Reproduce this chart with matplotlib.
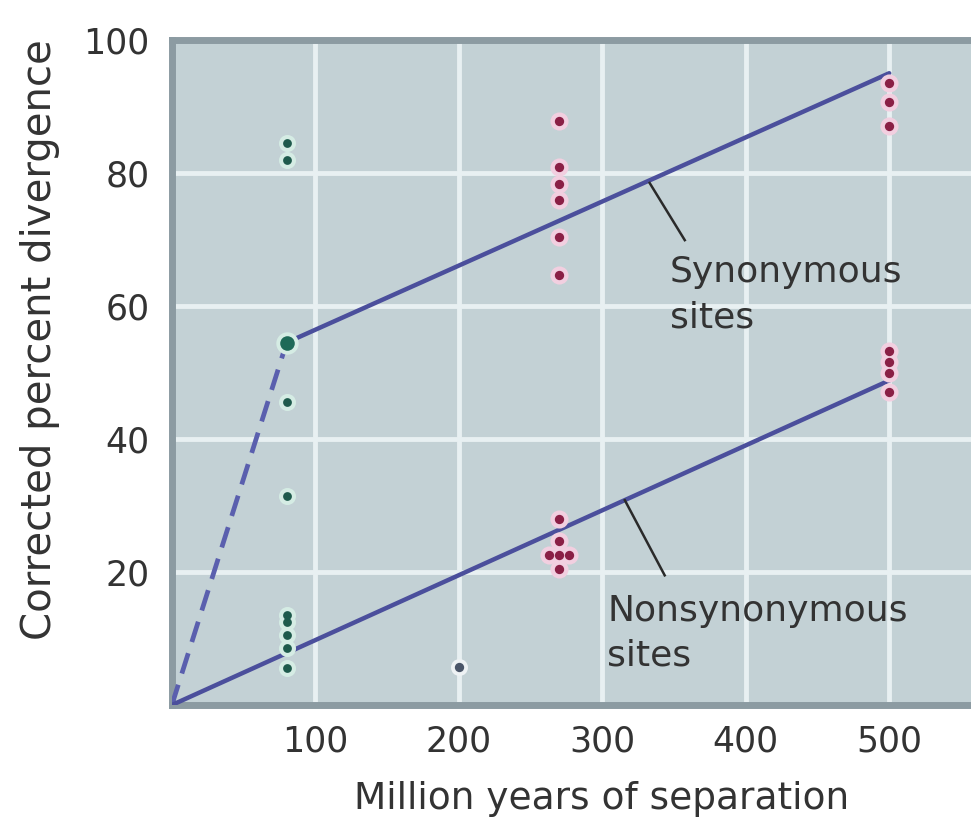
import matplotlib
matplotlib.use("Agg")
import matplotlib.pyplot as plt

# Data (million years, corrected percent divergence)
green_x = [80, 80, 80, 80, 80, 80, 80, 80, 80]
green_y = [84.5, 82.0, 45.5, 31.5, 13.5, 12.5, 10.5, 8.5, 5.5]
big_x = [80]
big_y = [54.5]
red_x = [270, 270, 270, 270, 270, 270, 270, 270, 263, 270, 277, 270,
         500, 500, 500, 500, 500, 500, 500]
red_y = [87.8, 80.9, 78.3, 75.9, 70.4, 64.7, 28.0, 24.7, 22.5, 22.5, 22.5, 20.4,
         93.5, 90.6, 87.0, 53.3, 51.6, 49.9, 47.1]
blue_x = [200]
blue_y = [5.7]

syn_x = [80, 500]
syn_y = [54.5, 95.0]
syn_dash_x = [0, 80]
syn_dash_y = [0, 54.5]
non_x = [0, 500]
non_y = [0, 48.8]

xticks = [100, 200, 300, 400, 500]
yticks = [20, 40, 60, 80, 100]

plt.rcParams['font.family'] = ['DejaVu Sans']

fig = plt.figure(figsize=(9.71, 8.24), dpi=100)
ax = fig.add_axes([0.177, 0.1444, 0.823, 0.8071])
ax.set_facecolor('#c3d1d5')
ax.set_xlim(0, 557)
ax.set_ylim(0, 100)

for v in xticks:
    ax.axvline(v, color='#e8f0f2', lw=3.5, zorder=1)
for v in yticks[:-1]:
    ax.axhline(v, color='#e8f0f2', lw=3.5, zorder=1)

line_col = '#4b4f9c'
ax.plot(syn_x, syn_y, color=line_col, lw=3.2, zorder=3, solid_capstyle='round')
ax.plot(syn_dash_x, syn_dash_y, color='#5a5fae', lw=3.4, ls=(0, (4.5, 2.5)), zorder=3)
ax.plot(non_x, non_y, color=line_col, lw=3.2, zorder=3)

# leader lines
ax.plot([333, 357.5], [78.5, 69.9], color='#2a2a2a', lw=1.8, zorder=3)
ax.plot([315.7, 343.5], [30.8, 19.5], color='#2a2a2a', lw=1.8, zorder=3)

# markers with halos
ax.scatter(green_x, green_y, s=150, color='#d5ece4', zorder=4, lw=0)
ax.scatter(green_x, green_y, s=40, color='#1e5a4c', zorder=5, lw=0)
ax.scatter(big_x, big_y, s=260, color='#d5ece4', zorder=4, lw=0)
ax.scatter(big_x, big_y, s=110, color='#1e6a58', zorder=5, lw=0)
ax.scatter(red_x, red_y, s=170, color='#f2cfe0', zorder=4, lw=0)
ax.scatter(red_x, red_y, s=45, color='#8a1f45', zorder=5, lw=0)
ax.scatter(blue_x, blue_y, s=150, color='#eef2f4', zorder=4, lw=0)
ax.scatter(blue_x, blue_y, s=45, color='#4a5568', zorder=5, lw=0)

ax.text(347, 61.7, "Synonymous\nsites", fontsize=26, color='#333333',
        linespacing=1.4, va='center', ha='left', zorder=6)
ax.text(303.5, 10.8, "Nonsynonymous\nsites", fontsize=26, color='#333333',
        linespacing=1.4, va='center', ha='left', zorder=6)

ax.set_xticks(xticks)
ax.set_yticks(yticks)
ax.tick_params(length=0, labelsize=25, colors='#333333', pad=14)
ax.tick_params(axis='y', pad=16)
for s in ['left', 'top', 'bottom']:
    ax.spines[s].set_color('#8c9ba2')
    ax.spines[s].set_linewidth(5)
ax.spines['right'].set_visible(False)

ax.set_xlabel("Million years of separation", fontsize=27, color='#333333')
ax.set_ylabel("Corrected percent divergence", fontsize=29, color='#333333')
ax.xaxis.set_label_coords(0.538, -0.115)
ax.yaxis.set_label_coords(-0.14, 0.549)

fig.savefig("out.png", dpi=100, facecolor='white')
